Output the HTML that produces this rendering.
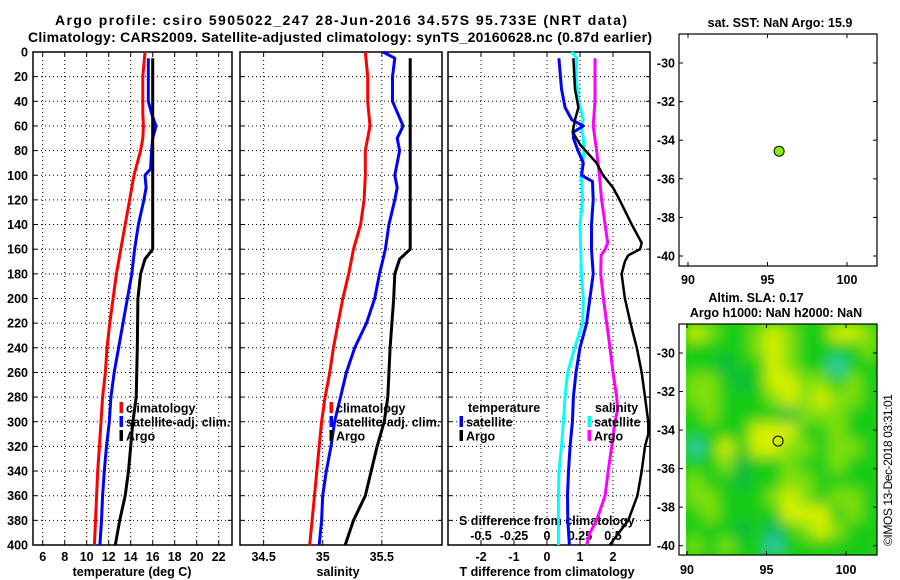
<!DOCTYPE html>
<html><head><meta charset="utf-8"><style>
html,body{margin:0;padding:0;background:#fff;}
svg{display:block;font-family:"Liberation Sans",sans-serif;font-weight:bold;}
</style></head><body>
<svg id="c" width="900" height="580" viewBox="0 0 900 580" xmlns="http://www.w3.org/2000/svg">
<defs>
<filter id="blur" x="-10%" y="-10%" width="120%" height="120%"><feGaussianBlur stdDeviation="7"/></filter>
<clipPath id="mapclip"><rect x="686" y="324" width="191" height="231"/></clipPath>
</defs>
<text x="55" y="25" font-size="14" textLength="572">Argo profile: csiro 5905022_247 28-Jun-2016 34.57S 95.733E (NRT data)</text>
<text x="28" y="42" font-size="14" textLength="624">Climatology: CARS2009. Satellite-adjusted climatology: synTS_20160628.nc (0.87d earlier)</text>
<g id="g"></g>
</svg>
<script>
// ---- data ----
const depthT = [0,20,40,50,60,70,80,100,120,140,160,180,200,220,240,260,280,300,320,340,360,380,400];
const tempClim = [15.3,15.1,15.1,15.1,15.15,15.1,14.9,14.3,13.9,13.5,13.1,12.7,12.4,12.1,11.85,11.7,11.45,11.3,11.15,11.0,10.9,10.8,10.7];
const depthTS = [5,40,50,60,70,80,95,100,110,120,140,160,180,200,220,240,260,280,300,320,340,360,380,400];
const tempSat = [15.6,15.6,15.9,16.3,16.0,15.9,15.8,15.3,15.4,15.2,14.7,14.35,14.1,13.7,13.3,12.9,12.5,12.2,12.05,11.8,11.6,11.45,11.35,11.2];
const depthA = [5,160,168,180,200,240,280,300,320,340,360,380,400];
const tempArgo = [16.0,16.0,15.3,14.9,14.65,14.6,14.5,14.2,14.0,13.8,13.5,13.0,12.6];
const depthS = [0,20,40,60,80,100,120,140,160,180,200,220,240,260,280,300,320,340,360,380,400];
const salClim = [35.36,35.38,35.38,35.40,35.36,35.36,35.35,35.32,35.26,35.22,35.17,35.13,35.09,35.06,35.02,34.99,34.97,34.95,34.93,34.91,34.89];
const depthSS = [0,5,20,40,60,70,80,100,110,120,140,160,180,200,220,240,260,280,300,320,340,360,380,400];
const salSat = [35.51,35.61,35.59,35.59,35.68,35.63,35.65,35.61,35.63,35.61,35.56,35.53,35.48,35.44,35.37,35.27,35.2,35.15,35.1,35.07,35.03,35.0,34.99,34.97];
const salArgo = [35.74,35.74,35.65,35.61,35.60,35.57,35.55,35.52,35.46,35.41,35.36,35.26,35.19];
const depthD = [5,30,45,55,60,65,70,80,90,100,105,120,140,160,180,200,220,240,260,280,300,320,340,360,380,400];
const tDiffSat = [0.36,0.44,0.55,0.75,1.1,0.8,0.8,0.94,1.1,1.05,1.38,1.4,1.35,1.35,1.4,1.3,1.2,1.0,0.88,0.8,0.77,0.7,0.65,0.62,0.63,0.68];
const depthD2 = [0,5,20,40,55,60,70,80,100,120,140,160,180,200,220,240,260,280,300,320,340,360,380,400];
const sDiffSat = [0.187,0.225,0.22,0.24,0.275,0.26,0.275,0.28,0.26,0.27,0.25,0.255,0.26,0.275,0.27,0.21,0.157,0.136,0.124,0.11,0.09,0.086,0.086,0.086];
const depthD3 = [5,40,60,80,100,120,140,155,160,165,180,200,220,240,260,280,290,300,320,340,360,380,390,400];
const sDiffArgo = [0.364,0.364,0.35,0.376,0.397,0.414,0.44,0.46,0.44,0.41,0.407,0.427,0.452,0.477,0.5,0.528,0.535,0.515,0.49,0.464,0.44,0.376,0.326,0.30];
const depthD4 = [5,30,45,55,65,75,90,100,110,120,140,155,160,165,170,180,200,220,240,260,280,300,310,320,340,360,380,400];
const tDiffArgo = [0.8,0.85,0.95,0.85,0.78,1.0,1.5,1.7,2.0,2.2,2.57,2.87,2.82,2.46,2.36,2.26,2.36,2.53,2.72,2.87,2.97,3.07,3.07,2.97,2.87,2.74,2.46,1.9];
const depthTicks = [0,20,40,60,80,100,120,140,160,180,200,220,240,260,280,300,320,340,360,380,400];
const tempTicks = [6,8,10,12,14,16,18,20,22];
const salTicks = [34.5,35,35.5];
const tdTicks = [-2,-1,0,1,2];
const sdTicks = [-0.5,-0.25,0,0.25,0.5];
const lonTicks = [90,95,100];
const latTicks = [-30,-32,-34,-36,-38,-40];
const argoLon = 95.73, argoLat = -34.57;
const slaGrid = [
[3,2,1,1,2,3,2,1,1,3,3,2],
[1,1,1,1,2,3,2,1,1,1,1,2],
[1,1,0.8,1,1,3,2,1,1,0,1,1],
[2,2,1,0.8,1,3,3,2,2,1,2,1],
[2,2,1,1,1,2,3,2,3,2,2,1],
[1,2,1,1,1,1,0.8,2,2,2,1,1],
[1,1,1,1,3,3,3,1,1,2,1,1],
[0,1,3,1,3,3,2,2,1,2,2,1],
[1,1,2,0.8,1,1,2,1,1,2,1,1],
[2,1,1,0.8,1,1,2,2,1,1,1,1],
[2,2,1,1,1,2,3,2,1,2,2,1],
[1,2,1,1,1,1,3,3,3,1,2,1],
[1,1,1,0.8,1,0.5,1,2,3,2,1,1],
[2,1,2,1,1,0,1,1,1,1,1,1]];

// ---- scales ----
const Y0=52, Y1=545;
const yD = d => Y0 + d*(Y1-Y0)/400;
const xT = t => 42.7 + (t-6)*11.0;
const xS = s => 240 + (s-34.3)*118.2;
const xTD = t => 547 + t*33;
const xSD = s => 547 + s*132;
const mxTop = lon => 688 + (lon-90)*15.9;
const myTop = lat => 63 + (-30-lat)*19.3;
const mxBot = lon => 687 + (lon-90)*15.9;
const myBot = lat => 353 + (-30-lat)*19.27;

const NS='http://www.w3.org/2000/svg';
const G=document.getElementById('g');
function mk(tag, attrs, parent){const e=document.createElementNS(NS,tag);for(const k in attrs)e.setAttribute(k,attrs[k]);(parent||G).appendChild(e);return e;}
function txt(x,y,s,size,anchor,parent){const e=mk('text',{x:x,y:y,'font-size':size,'text-anchor':anchor||'middle'},parent);e.textContent=s;return e;}

const panels=[[33,232],[240,442],[448,650]];
panels.forEach((p,i)=>{
  const g=mk('g',{});
  
  
  depthTicks.forEach(d=>{ if(d>0&&d<400){ const l=mk('line',{x1:p[0],x2:p[1],y1:yD(d),y2:yD(d),stroke:'#000','stroke-width':1,'stroke-dasharray':'1 3'},g);
     }
    mk('line',{x1:p[0],x2:p[0]+4,y1:yD(d),y2:yD(d),stroke:'#000'},g);
    mk('line',{x1:p[1]-4,x2:p[1],y1:yD(d),y2:yD(d),stroke:'#000'},g);
  });
  const r=mk('rect',{x:p[0],y:Y0,width:p[1]-p[0],height:Y1-Y0,fill:'none',stroke:'#000','stroke-width':1.5},g);
   
});
function vgrid(ticks,fx,labels,ly){
  ticks.forEach(t=>{const x=fx(t);
    const l=mk('line',{x1:x,x2:x,y1:Y0,y2:Y1,stroke:'#000','stroke-width':1,'stroke-dasharray':'1 3'});
     
    mk('line',{x1:x,x2:x,y1:Y1-4,y2:Y1,stroke:'#000'});
    mk('line',{x1:x,x2:x,y1:Y0,y2:Y0+4,stroke:'#000'});
    if(labels){const e=txt(x,ly,String(t),12.5);  }
  });
}
vgrid(tempTicks,xT,true,561);
vgrid(salTicks,xS,true,561);
vgrid(tdTicks,xTD,true,561);
sdTicks.forEach(s=>{const e=txt(xSD(s),540,String(s),12.5);
   });
depthTicks.forEach(d=>{const e=txt(28,yD(d)+4.5,String(d),12.5,'end');
   });

let e;
e=txt(132,576,'temperature (deg C)',12.5);  
e=txt(338,576,'salinity',12.5);  
e=txt(547,576,'T difference from climatology',12.5);  
e=txt(459,525,'S difference from climatology',12.5,'start');  

function series(xs,ds,fx,color,w,name){
  const pts=xs.map((v,i)=>fx(v).toFixed(1)+','+yD(ds[i]).toFixed(1)).join(' ');
  const pl=mk('polyline',{points:pts,fill:'none',stroke:color,'stroke-width':w,'stroke-linejoin':'round'});
   
}
series(tempClim,depthT,xT,'#ff0000',3,'temp-climatology-line');
series(tempSat,depthTS,xT,'#0000ff',3,'temp-satellite-line');
series(tempArgo,depthA,xT,'#000',3,'temp-argo-line');
series(salClim,depthS,xS,'#ff0000',3,'sal-climatology-line');
series(salSat,depthSS,xS,'#0000ff',3,'sal-satellite-line');
series(salArgo,depthA,xS,'#000',3,'sal-argo-line');
series(sDiffSat,depthD2,xSD,'#00ffff',3,'s-diff-satellite-line');
series(tDiffSat,depthD,xTD,'#0000ff',3,'t-diff-satellite-line');
series(sDiffArgo,depthD3,xSD,'#ff00ff',3,'s-diff-argo-line');
series(tDiffArgo,depthD4,xTD,'#000',2.5,'t-diff-argo-line');

function legend(x,y,color,label){
  const g=mk('g',{});
   
  mk('rect',{x:x-1.5,y:y-6,width:3.5,height:11,fill:color},g);
  txt(x+5,y+4.5,label,12.5,'start',g);
}
legend(121,408,'#ff0000','climatology');
legend(121,422,'#0000ff','satellite-adj. clim.');
legend(121,436,'#000','Argo');
legend(331,408,'#ff0000','climatology');
legend(331,422,'#0000ff','satellite-adj. clim.');
legend(331,436,'#000','Argo');
e=txt(468,412,'temperature',12.5,'start');  
e=txt(595,412,'salinity',12.5,'start');  
legend(461,422,'#0000ff','satellite');
legend(461,436,'#000','Argo');
legend(589,422,'#00ffff','satellite');
legend(589,436,'#ff00ff','Argo');

// ---- maps ----
function mapAxes(top,bot,fx,fy,lbly,name){
  const g=mk('g',{});
   
  mk('rect',{x:679,y:top,width:198,height:bot-top,fill:'none',stroke:'#000','stroke-width':1.2},g);
  lonTicks.forEach(l=>{const x=fx(l);
    mk('line',{x1:x,x2:x,y1:bot-4,y2:bot,stroke:'#000'},g);
    mk('line',{x1:x,x2:x,y1:top,y2:top+4,stroke:'#000'},g);
    txt(x,lbly,String(l),12.5,'middle',g);});
  latTicks.forEach(l=>{const y=fy(l);
    mk('line',{x1:679,x2:683,y1:y,y2:y,stroke:'#000'},g);
    mk('line',{x1:873,x2:877,y1:y,y2:y,stroke:'#000'},g);
    txt(675,y+4.5,String(l),12.5,'end',g);});
  return g;
}
// bottom heatmap
const hg=mk('g',{'clip-path':'url(#mapclip)'});
 
mk('rect',{x:686,y:324,width:191,height:231,fill:'#22d010'},hg);
const bg=mk('g',{filter:'url(#blur)'},hg);
function col(v){
  if(v<=0) return '#30c8b0';
  if(v<0.6) return '#10b868';
  if(v<0.9) return '#10b840';
  if(v<1.5) return '#18cc14';
  if(v<2.5) return '#80e010';
  return '#d8f000';
}
const cw=191/12, ch=231/14;
slaGrid.forEach((row,r)=>row.forEach((v,c)=>{
  const cell=mk('rect',{x:686+c*cw,y:324+r*ch,width:cw+0.5,height:ch+0.5,fill:col(v)},bg);
   
}));
mapAxes(34,266,mxTop,myTop,284,'sst-map');
mapAxes(324,555,mxBot,myBot,574,'sla-map');
const m1=mk('circle',{cx:mxTop(argoLon),cy:myTop(argoLat),r:5,fill:'#88ee00',stroke:'#000','stroke-width':1});
 
const m2=mk('circle',{cx:mxBot(argoLon),cy:myBot(argoLat),r:5,fill:'none',stroke:'#000','stroke-width':1});
 
e=txt(780,27,'sat. SST: NaN Argo: 15.9',12.5);  
e=txt(756,302,'Altim. SLA: 0.17',12.5);  
e=txt(776,317,'Argo h1000: NaN h2000: NaN',12.5);  
e=txt(0,0,'©IMOS 13-Dec-2018 03:31:01',12,'middle');
e.setAttribute('transform','translate(892,470) rotate(-90)');
e.setAttribute('font-weight','normal');
e.setAttribute('textLength','152');
 
</script>
</body></html>
